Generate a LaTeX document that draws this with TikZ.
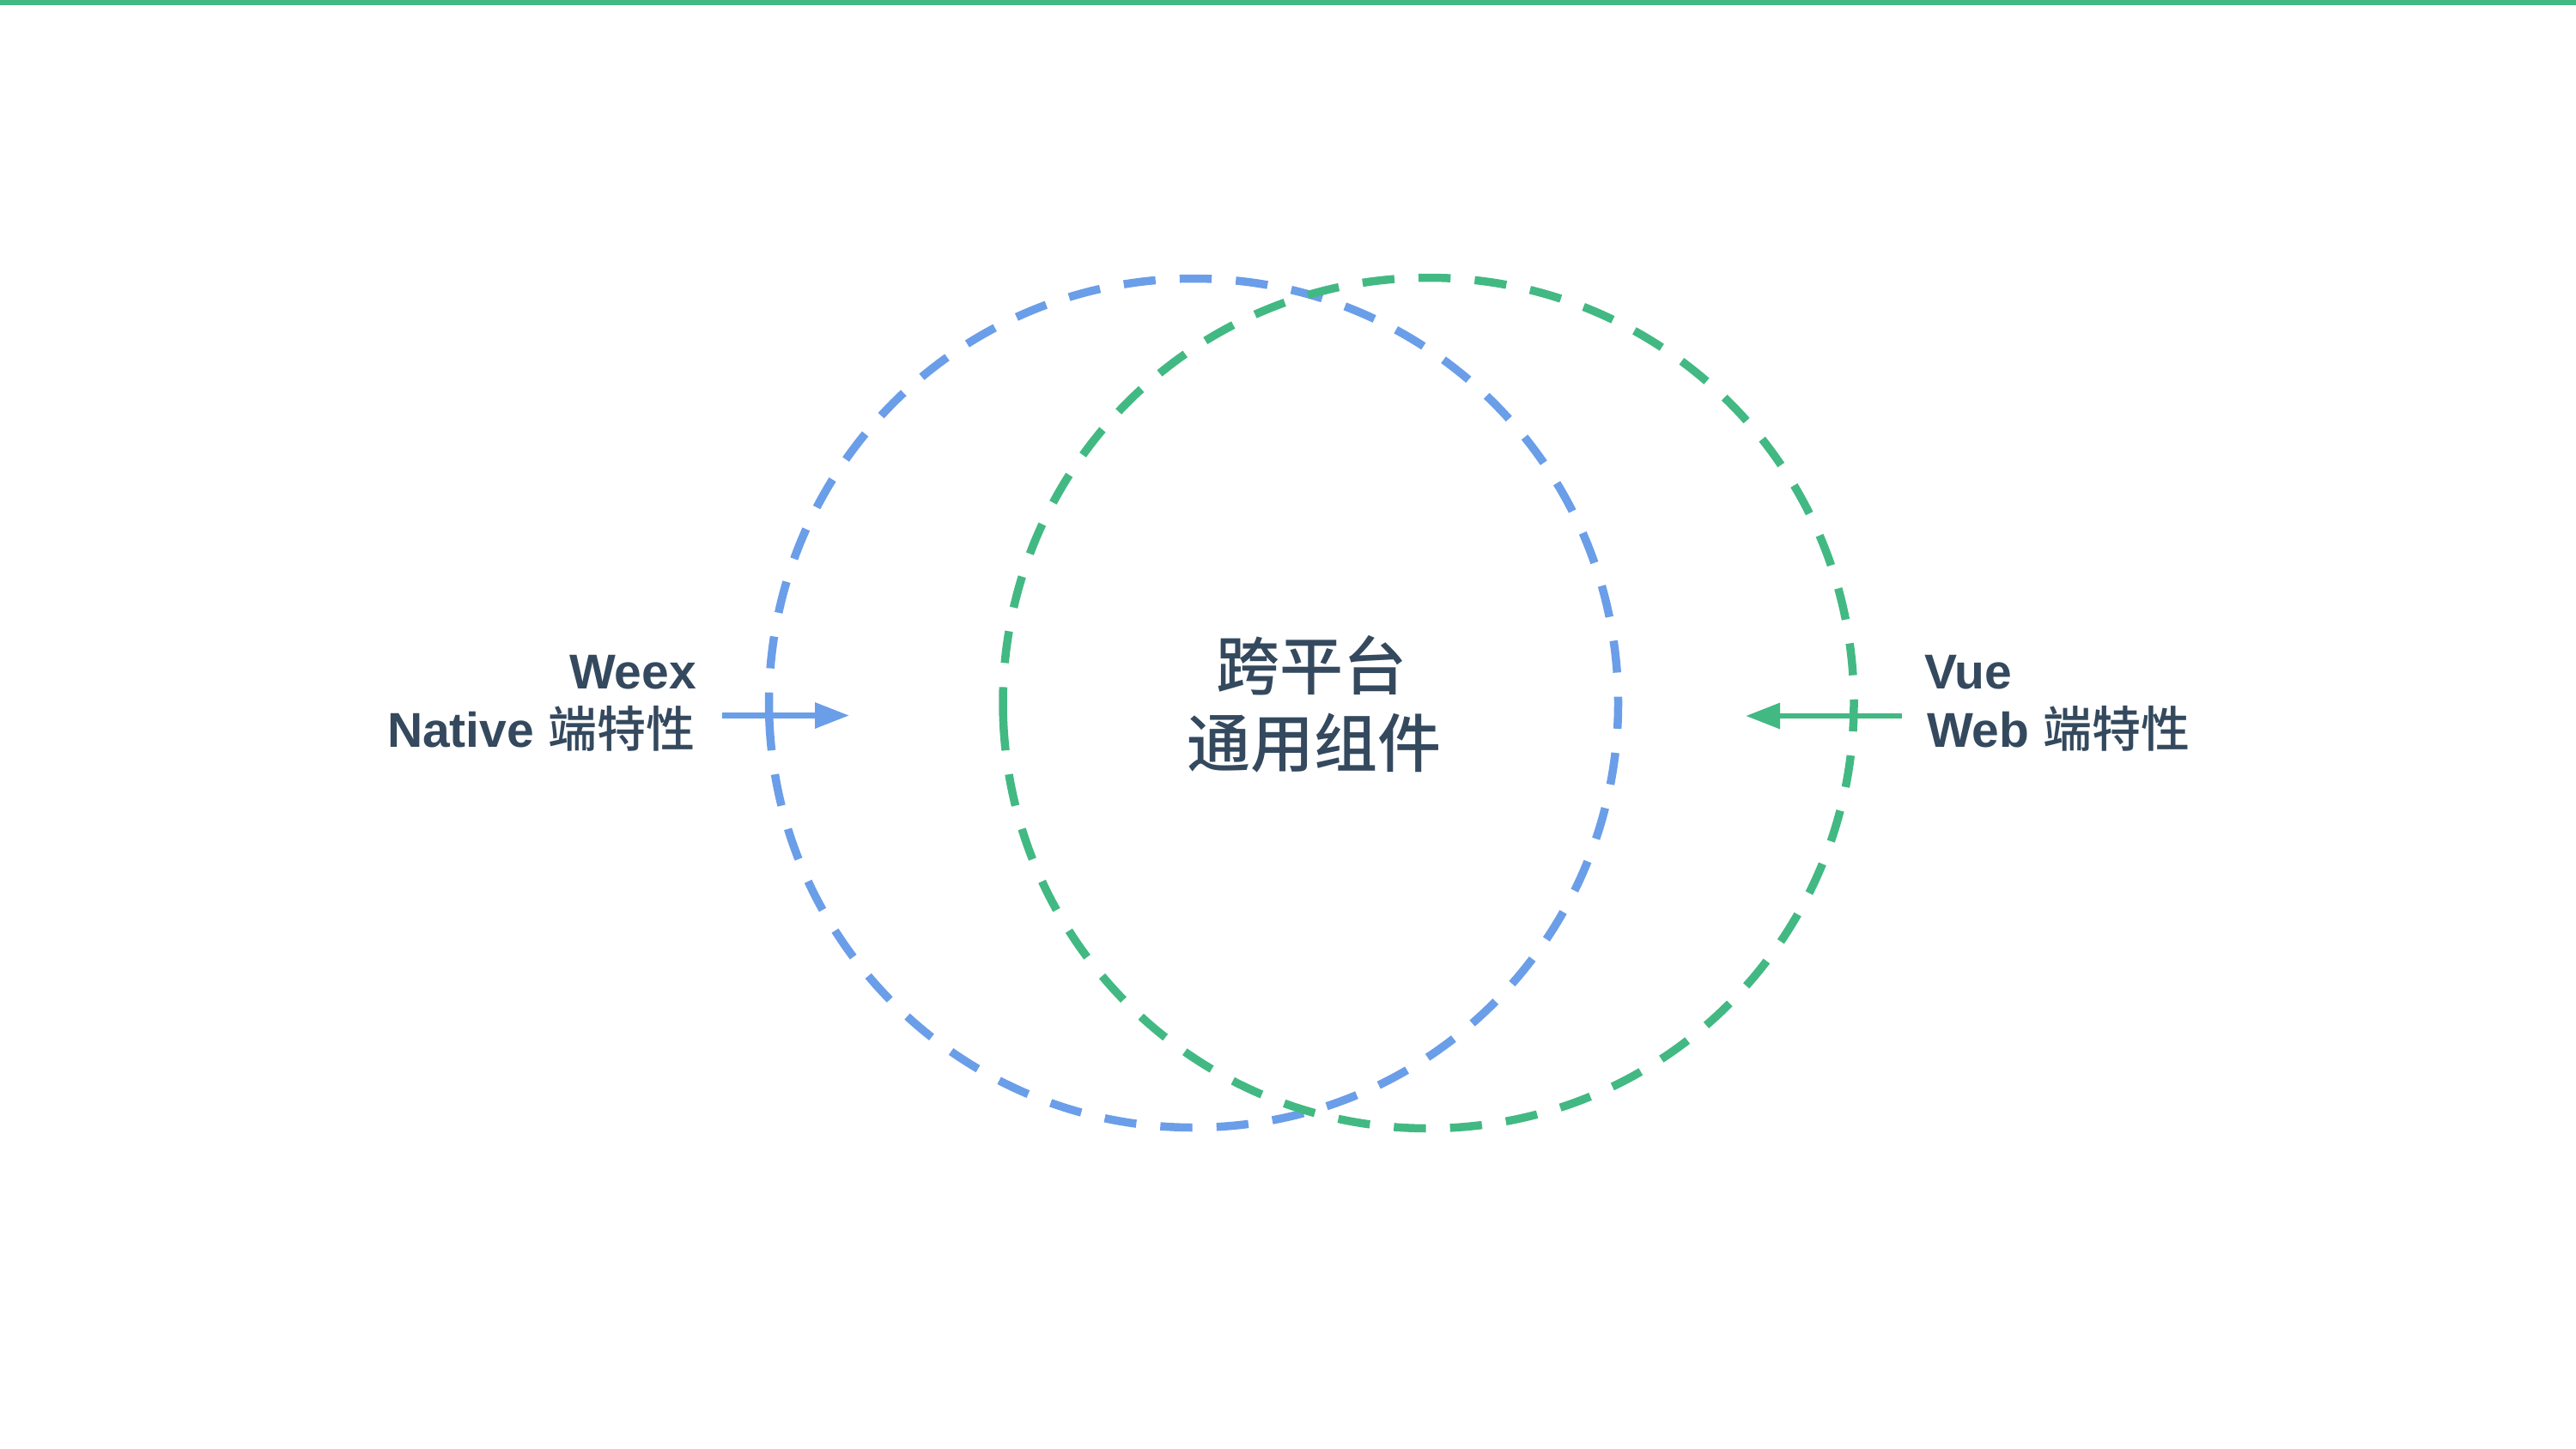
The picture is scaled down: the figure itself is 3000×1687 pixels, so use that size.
\documentclass[tikz,border=0pt]{standalone}
\usepackage{fontspec}
\setmainfont{Liberation Sans}
\newfontfamily\cjkm{Noto Sans CJK SC Medium}
\usetikzlibrary{arrows.meta,calc}
\definecolor{vgreen}{HTML}{42B983}
\definecolor{wblue}{HTML}{6B9EE8}
\definecolor{ink}{HTML}{34495E}
\tikzset{
  ring/.style={line width=9.5pt, dash pattern=on 37.3pt off 28.17pt},
  feat/.style={line width=6.5pt, -{Triangle[length=40pt,width=29pt]}},
  lbl/.style={inner sep=0pt, outer sep=0pt, text=ink, font=\fontsize{57}{57}\selectfont\bfseries},
  ctr/.style={inner sep=0pt, outer sep=0pt, text=ink, font=\fontsize{74}{74}\selectfont\cjkm}
}
\begin{document}
\begin{tikzpicture}[x=1pt,y=-1pt]
\useasboundingbox (0,0) rectangle (3000,1687);
\fill[white] (0,0) rectangle (3000,1687);
\fill[vgreen] (0,0) rectangle (3000,6);
% circles (start at left, just below centre, going downward)
\coordinate (bc) at (1390,819);
\coordinate (gc) at (1663.5,819);
\draw[ring, wblue] ($(bc)+(177.92:494.5)$) arc[start angle=177.92, end angle=-182.08, radius=494.5];
\draw[ring, vgreen] ($(gc)+(177.92:495.5)$) arc[start angle=177.92, end angle=-182.08, radius=495.5];
% arrows
\coordinate (bA) at (841,833.5);
\coordinate (bB) at (989,833.5);
\coordinate (gA) at (2215,834);
\coordinate (gB) at (2033,834);
\draw[feat, wblue] (bA) -- (bB);
\draw[feat, vgreen] (gA) -- (gB);
% labels
\node[lbl, anchor=base east] (weex) at (811,802) {Weex};
\node[lbl, anchor=base east] (native) at (809,870) {Native {\mdseries\cjkm 端特性}};
\node[lbl, anchor=base west] (vue) at (2241,802) {Vue};
\node[lbl, anchor=base west] (web) at (2244,870) {Web {\mdseries\cjkm 端特性}};
\node[ctr, anchor=base] (c1) at (1527,803) {跨平台};
\node[ctr, anchor=base] (c2) at (1530,893) {通用组件};
\end{tikzpicture}
\end{document}
